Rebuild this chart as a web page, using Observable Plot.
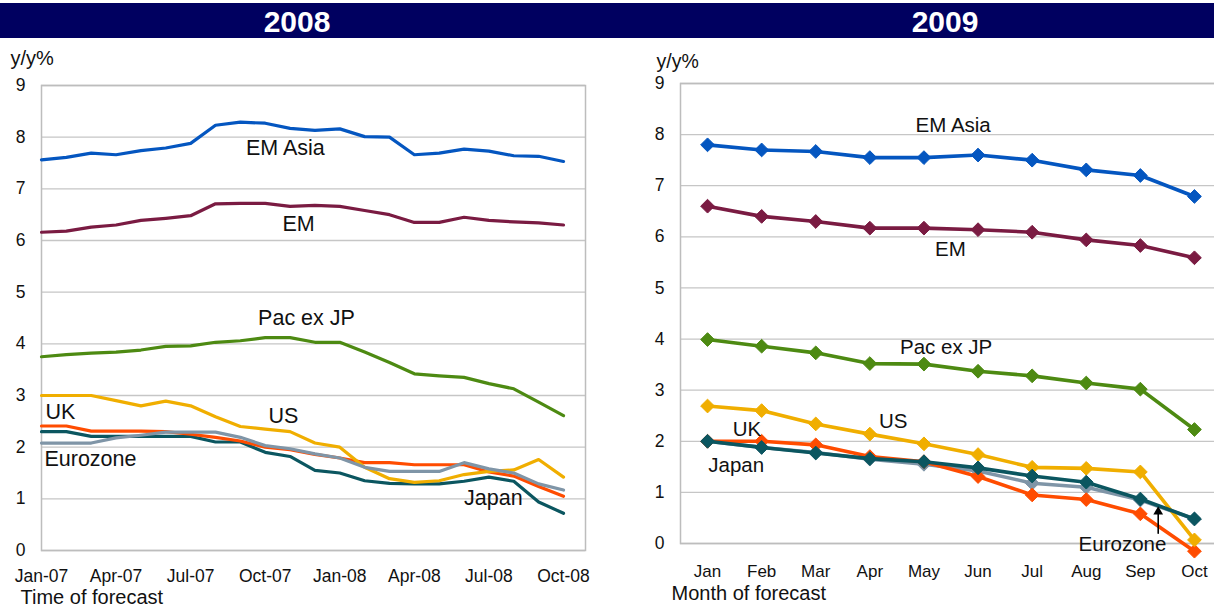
<!DOCTYPE html>
<html>
<head>
<meta charset="utf-8">
<script src="https://cdn.jsdelivr.net/npm/d3@7"></script>
<script src="https://cdn.jsdelivr.net/npm/@observablehq/plot@0.6"></script>
<style>
  html, body { margin: 0; padding: 0; background: #fff; }
  body { width: 1214px; height: 606px; overflow: hidden; position: relative; font-family: "Liberation Sans", Arial, sans-serif; }
  .bar { position: absolute; left: 0; top: 3px; width: 1214px; height: 35px; background: #000060; }
  .yr { position: absolute; top: 3px; height: 35px; line-height: 37px; color: #fff; font-weight: bold; font-size: 30px; width: 200px; text-align: center; }
  .chart { position: absolute; top: 40px; }
</style>
</head>
<body>
<div class="bar"></div>
<div class="yr" style="left:197px">2008</div>
<div class="yr" style="left:845px">2009</div>
<div id="left" class="chart" style="left:0px"></div>
<div id="right" class="chart" style="left:620px"></div>
<script>
// ---------- DATA ----------
const months08 = ["Jan-07","Feb-07","Mar-07","Apr-07","May-07","Jun-07","Jul-07","Aug-07","Sep-07","Oct-07","Nov-07","Dec-07",
                  "Jan-08","Feb-08","Mar-08","Apr-08","May-08","Jun-08","Jul-08","Aug-08","Sep-08","Oct-08"];
const tickLabels08 = ["Jan-07","Apr-07","Jul-07","Oct-07","Jan-08","Apr-08","Jul-08","Oct-08"];
const months09 = ["Jan","Feb","Mar","Apr","May","Jun","Jul","Aug","Sep","Oct"];

const emAsia08   = [7.56,7.61,7.69,7.66,7.74,7.79,7.88,8.23,8.29,8.27,8.17,8.13,8.16,8.01,8.00,7.66,7.69,7.77,7.73,7.64,7.63,7.53];
const em08       = [6.16,6.18,6.26,6.30,6.39,6.43,6.48,6.71,6.72,6.72,6.66,6.68,6.66,6.58,6.50,6.35,6.35,6.45,6.39,6.36,6.34,6.30];
const pacExJp08  = [3.75,3.79,3.82,3.84,3.88,3.95,3.96,4.03,4.06,4.12,4.12,4.03,4.03,3.84,3.64,3.42,3.38,3.35,3.23,3.13,2.87,2.61];
const us08       = [3.00,3.00,3.00,2.90,2.80,2.89,2.80,2.59,2.40,2.35,2.30,2.08,2.00,1.61,1.39,1.32,1.35,1.47,1.53,1.56,1.76,1.42];
const uk08       = [2.41,2.41,2.31,2.31,2.31,2.30,2.25,2.19,2.12,2.00,1.95,1.86,1.79,1.70,1.70,1.66,1.66,1.66,1.52,1.44,1.24,1.05];
const eurozone08 = [2.08,2.08,2.08,2.18,2.23,2.29,2.29,2.29,2.19,2.03,1.97,1.87,1.79,1.61,1.53,1.53,1.53,1.70,1.58,1.50,1.29,1.17];
const japan08    = [2.30,2.30,2.21,2.21,2.21,2.21,2.21,2.10,2.10,1.90,1.82,1.55,1.50,1.35,1.30,1.29,1.29,1.34,1.42,1.34,0.94,0.72];

const emAsia09   = [7.80,7.70,7.67,7.55,7.55,7.60,7.50,7.31,7.20,6.79];
const em09       = [6.60,6.40,6.30,6.17,6.17,6.14,6.09,5.94,5.83,5.59];
const pacExJp09  = [3.99,3.86,3.73,3.52,3.51,3.37,3.28,3.14,3.02,2.23];
const us09       = [2.69,2.60,2.34,2.14,1.95,1.74,1.49,1.47,1.40,0.07];
const uk09       = [2.00,2.00,1.93,1.70,1.60,1.31,0.95,0.86,0.58,-0.15];
const japan09    = [2.00,1.88,1.77,1.66,1.60,1.48,1.32,1.20,0.87,0.48];
const eurozone09 = [2.00,1.88,1.78,1.65,1.55,1.42,1.18,1.10,0.85,0.48];

const yTicks = [0,1,2,3,4,5,6,7,8,9];

// ---------- STYLE ----------
const FONT = '"Liberation Sans", Arial, sans-serif';
const colors = {
  "EM Asia": "#0456c0", "EM": "#7a1b42", "Pac ex JP": "#4d8a12",
  "US": "#f0ae00", "UK": "#ff4c00", "Eurozone": "#7f95a7", "Japan": "#0b5660"
};

const series08 = [["Japan", japan08],["UK", uk08],["US", us08],["Eurozone", eurozone08],
                  ["Pac ex JP", pacExJp08],["EM", em08],["EM Asia", emAsia08]];
const series09 = [["Eurozone", eurozone09],["UK", uk09],["US", us09],["Japan", japan09],
                  ["Pac ex JP", pacExJp09],["EM", em09],["EM Asia", emAsia09]];

const rows = (months, vals) => months.map((m, i) => ({i, m, v: vals[i]}));

// label placement (data coordinates)
const labels08 = [
  {t:"EM Asia", x:9.81, y:7.78}, {t:"EM", x:10.34, y:6.31}, {t:"Pac ex JP", x:10.66, y:4.49},
  {t:"UK", x:0.76, y:2.67}, {t:"US", x:9.73, y:2.61}, {t:"Eurozone", x:1.97, y:1.76}, {t:"Japan", x:18.18, y:1.01}
];
const labels09 = [
  {t:"EM Asia", x:4.54, y:8.17}, {t:"EM", x:4.49, y:5.75}, {t:"Pac ex JP", x:4.41, y:3.83},
  {t:"US", x:3.43, y:2.38}, {t:"UK", x:0.73, y:2.24}, {t:"Japan", x:0.53, y:1.52}, {t:"Eurozone", x:7.67, y:-0.01}
];

// ---------- LEFT (2008) ----------
const tickIdx08 = tickLabels08.map(l => months08.indexOf(l));
const left = Plot.plot({
  width: 600, height: 566,
  marginLeft: 41, marginRight: 15, marginTop: 45, marginBottom: 56,
  style: {fontFamily: FONT, fontSize: "17px", color: "#111", background: "transparent", overflow: "visible"},
  x: {domain: [0, 21.885]},
  y: {domain: [0, 9]},
  marks: [
    Plot.gridY(yTicks, {stroke: "#c6c6c6", strokeOpacity: 1, strokeWidth: 1.3}),
    Plot.frame({stroke: "#bdbdbd", strokeWidth: 1.5}),
    Plot.axisX(tickIdx08, {tickFormat: i => months08[i], tickSize: 0, tickPadding: 19, fontSize: 17.5, label: null}),
    Plot.axisY(yTicks, {tickFormat: d => String(d), tickSize: 0, tickPadding: 16, fontSize: 17.5, label: null}),
    ...series08.map(([name, vals]) => Plot.line(rows(months08, vals), {x: "i", y: "v", stroke: colors[name], strokeWidth: 3.2})),
    Plot.text(labels08, {x: "x", y: "y", text: "t", fontSize: 21.5, fill: "#111", textAnchor: "middle"}),
    Plot.text(["y/y%"], {frameAnchor: "top-left", lineAnchor: "middle", textAnchor: "start", dx: -31, dy: -27, fontSize: 20, fill: "#111"}),
    Plot.text(["Time of forecast"], {frameAnchor: "bottom-left", lineAnchor: "middle", textAnchor: "start", dx: -21, dy: 47.5, fontSize: 20, fill: "#111"})
  ]
});
left.style.maxWidth = "none";
document.getElementById("left").appendChild(left);

// ---------- RIGHT (2009) ----------
const right = Plot.plot({
  width: 620, height: 566,
  marginLeft: 60, marginRight: 19, marginTop: 43, marginBottom: 63,
  style: {fontFamily: FONT, fontSize: "17px", color: "#111", background: "transparent", overflow: "visible"},
  x: {domain: [-0.5, months09.length - 0.5]},
  y: {domain: [0, 9]},
  marks: [
    Plot.gridY(yTicks, {stroke: "#c6c6c6", strokeOpacity: 1, strokeWidth: 1.3}),
    Plot.frame({stroke: "#bdbdbd", strokeWidth: 1.5}),
    Plot.axisX(months09.map((m, i) => i), {tickFormat: i => months09[i], tickSize: 0, tickPadding: 21, fontSize: 17, label: null}),
    Plot.axisY(yTicks, {tickFormat: d => String(d), tickSize: 0, tickPadding: 16, fontSize: 17.5, label: null}),
    ...series09.flatMap(([name, vals]) => [
      Plot.line(rows(months09, vals), {x: "i", y: "v", stroke: colors[name], strokeWidth: 3.6}),
      Plot.dot(rows(months09, vals), {x: "i", y: "v", symbol: "diamond2", r: 6.2, fill: colors[name], stroke: colors[name], strokeWidth: 1})
    ]),
    Plot.text(labels09, {x: "x", y: "y", text: "t", fontSize: 20.5, fill: "#111", textAnchor: "middle"}),
    Plot.arrow([{x: 8.33, y1: 0.2, y2: 0.62}], {x1: "x", x2: "x", y1: "y1", y2: "y2", stroke: "#000", strokeWidth: 1.6, headLength: 0}),
    Plot.dot([{x: 8.33, y: 0.62}], {x: "x", y: "y", symbol: "triangle", r: 3.6, fill: "#000", stroke: "none"}),
    Plot.text(["y/y%"], {frameAnchor: "top-left", lineAnchor: "middle", textAnchor: "start", dx: -24, dy: -22, fontSize: 19.5, fill: "#111"}),
    Plot.text(["Month of forecast"], {frameAnchor: "bottom-left", lineAnchor: "middle", textAnchor: "start", dx: -9, dy: 50, fontSize: 20, fill: "#111"})
  ]
});
right.style.maxWidth = "none";
document.getElementById("right").appendChild(right);
</script>
</body>
</html>
